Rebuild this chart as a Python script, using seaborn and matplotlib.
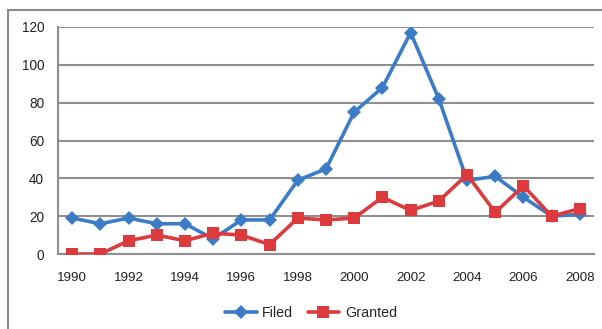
import matplotlib
matplotlib.use("Agg")
import matplotlib.pyplot as plt
from matplotlib.patches import Rectangle
from matplotlib.ticker import FixedLocator
import seaborn as sns
import pandas as pd

years = list(range(1990, 2009))
filed = [19, 16, 19, 16, 16, 8, 18, 18, 39, 45, 75, 88, 117, 82, 39, 41, 30, 20, 21]
granted = [0, 0, 7, 10, 7, 11, 10, 5, 19, 18, 19, 30, 23, 28, 42, 22, 36, 20, 24]
series_names = ["Filed", "Granted"]
y_ticks = [0, 20, 40, 60, 80, 100, 120]

sns.set_style("white")
plt.rcParams["font.family"] = ["Liberation Sans", "DejaVu Sans"]

df = pd.DataFrame({
    "pos": list(range(len(years))) * 2,
    "value": filed + granted,
    "series": [series_names[0]] * len(years) + [series_names[1]] * len(years),
})

fig = plt.figure(figsize=(6.02, 3.29), dpi=100)
ax = fig.add_axes([58 / 602, 1 - 254 / 329, (594 - 58) / 602, (254 - 27) / 329])

# outer chart frame (partly cropped on the right and bottom)
fig.patches.append(Rectangle((8 / 602, -0.1), 1.2, 1 - 10 / 329 + 0.1,
                             transform=fig.transFigure, fill=False,
                             edgecolor="#8a8a8a", linewidth=1.5, zorder=0))

palette = {"Filed": "#3c7cc6", "Granted": "#dc3a3d"}
sns.lineplot(data=df, x="pos", y="value", hue="series", style="series",
             palette=palette, markers={"Filed": "D", "Granted": "s"},
             dashes=False, linewidth=2.6, markersize=7, markeredgewidth=0,
             ax=ax, legend=False, zorder=3)
for line, name in zip(ax.lines, series_names):
    if name == "Granted":
        line.set_markersize(9)

ax.set_xlim(-0.5, len(years) - 0.5)
ax.set_ylim(0, 120)
ax.set_xlabel("")
ax.set_ylabel("")

# y axis: gridlines at each tick
ax.set_yticks(y_ticks)
ax.yaxis.grid(True, color="#8f8f8f", linewidth=1.5)
ax.set_axisbelow(True)

# x axis: labels every other year, tick marks at category boundaries
ax.set_xticks(range(0, len(years), 2))
ax.set_xticklabels([str(y) for y in years[::2]])
ax.xaxis.set_minor_locator(FixedLocator([i - 0.5 for i in range(len(years) + 1)]))
ax.tick_params(axis="x", which="major", length=0, pad=13, labelsize=9.6, colors="#222222")
ax.tick_params(axis="x", which="minor", length=4, width=1.3, color="#8f8f8f", direction="out")
ax.tick_params(axis="y", which="major", length=4, width=1.3, color="#8f8f8f",
               pad=6, labelsize=9.8, labelcolor="#222222", direction="out")

for side in ["top", "right"]:
    ax.spines[side].set_visible(False)
for side in ["left", "bottom"]:
    ax.spines[side].set_color("#8f8f8f")
    ax.spines[side].set_linewidth(1.5)

handles = [
    plt.Line2D([], [], color=palette["Filed"], marker="D", markersize=7, linewidth=2.6, markeredgewidth=0),
    plt.Line2D([], [], color=palette["Granted"], marker="s", markersize=9, linewidth=2.6, markeredgewidth=0),
]
fig.legend(handles, series_names, loc="center", bbox_to_anchor=(311 / 602, 1 - 313 / 329),
           ncol=2, frameon=False, fontsize=10.3, handlelength=2.2, handletextpad=0.4,
           columnspacing=1.0)

fig.savefig("out.png", dpi=100)
